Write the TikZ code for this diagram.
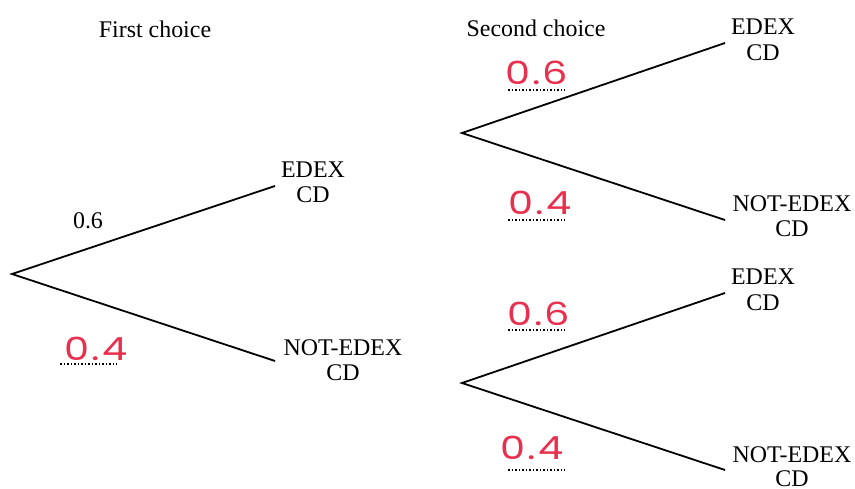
\documentclass[tikz,border=0pt]{standalone}
\usepackage{fontspec}
\setmainfont{Liberation Serif}
\newfontfamily\handfont[FakeStretch=1.25,LetterSpace=6]{Poppins}
\definecolor{handred}{RGB}{232,48,78}
\begin{document}
\begin{tikzpicture}[x=1bp,y=-1bp,
  branch/.style={line width=1.8bp},
  lbl/.style={font=\fontsize{24}{25}\selectfont, inner sep=0, anchor=base},
  hand/.style={text=handred, font=\handfont\fontsize{32}{32}\selectfont, inner sep=0, anchor=base},
  dotline/.style={line width=1.5bp, dash pattern=on 1.5bp off 2bp}]
\useasboundingbox (0,0) rectangle (855,489);
% tree points
\coordinate (r1) at (12,274);
\coordinate (a1) at (275,186);
\coordinate (b1) at (275,361);
\coordinate (r2) at (462,133);
\coordinate (a2) at (725,43);
\coordinate (b2) at (725,220);
\coordinate (r3) at (462,383);
\coordinate (a3) at (725,293);
\coordinate (b3) at (725,470);
\draw[branch] (a1) -- (r1) -- (b1);
\draw[branch] (a2) -- (r2) -- (b2);
\draw[branch] (a3) -- (r3) -- (b3);
% headings
\node[lbl] (h1) at (155,38) {First choice};
\node[lbl] (h2) at (536,37) {Second choice};
% outcome labels
\node[lbl] (e1) at (313,178) {EDEX};
\node[lbl] (e1c) at (313,203) {CD};
\node[lbl] (n1) at (343,355) {NOT-EDEX};
\node[lbl] (n1c) at (343,380) {CD};
\node[lbl] (e2) at (763,35) {EDEX};
\node[lbl] (e2c) at (763,61) {CD};
\node[lbl] (n2) at (792,212) {NOT-EDEX};
\node[lbl] (n2c) at (792,237) {CD};
\node[lbl] (e3) at (763,285) {EDEX};
\node[lbl] (e3c) at (763,311) {CD};
\node[lbl] (n3) at (792,462) {NOT-EDEX};
\node[lbl] (n3c) at (792,486) {CD};
% probabilities
\node[lbl] (p1) at (88,229) {0.6};
\node[hand] (q1) at (96,360) {0.4};
\node[hand] (q2) at (537,85) {0.6};
\node[hand] (q3) at (540,215) {0.4};
\node[hand] (q4) at (539,326) {0.6};
\node[hand] (q5) at (532,459) {0.4};
% dotted answer lines
\coordinate (d1a) at (60,364); \coordinate (d1b) at (117,364);
\coordinate (d2a) at (508,90); \coordinate (d2b) at (565,90);
\coordinate (d3a) at (508,220); \coordinate (d3b) at (565,220);
\coordinate (d4a) at (508,330); \coordinate (d4b) at (565,330);
\coordinate (d5a) at (508,470); \coordinate (d5b) at (565,470);
\draw[dotline] (d1a) -- (d1b);
\draw[dotline] (d2a) -- (d2b);
\draw[dotline] (d3a) -- (d3b);
\draw[dotline] (d4a) -- (d4b);
\draw[dotline] (d5a) -- (d5b);
\end{tikzpicture}
\end{document}
